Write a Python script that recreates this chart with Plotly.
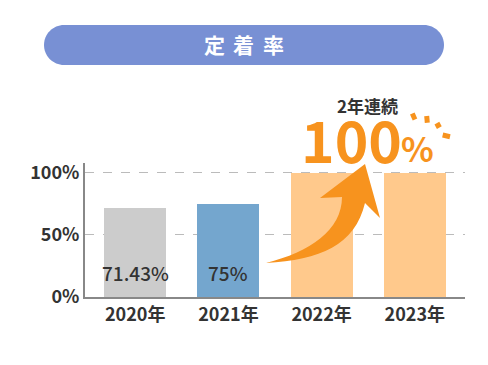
import plotly.graph_objects as go

# ---- data ----
years = ["2020年", "2021年", "2022年", "2023年"]
rates = [71.43, 75, 100, 100]
value_labels = ["71.43%", "75%", "", ""]
bar_colors = ["#CCCCCC", "#74A6CE", "#FFC98C", "#FFC98C"]
y_ticks = [0, 50, 100]
y_tick_labels = ["0%", "50%", "100%"]
title_chars = ["定", "着", "率"]
badge_small = "2年連続"
badge_big = "100"
badge_pct = "%"

OFF = 8  # page body margin
W, H = 488 - OFF, 365 - OFF
L, R, T, B = 85, 465, 163, 297
ORANGE = "#F7931E"
DARK = "#333333"
FONT = "Noto Sans CJK JP"

xs = list(range(len(years)))

def px(x):  # screen pixel -> paper x
    return (x - L) / (R - L)

def py(y):  # screen pixel -> paper y
    return (B - y) / (B - T)

def ann(x, y, text, size, color, weight="bold"):
    return dict(x=px(x), y=py(y), xref="paper", yref="paper", text=text, showarrow=False,
                xanchor="center", yanchor="middle",
                font=dict(family=FONT, size=size, color=color, weight=weight))

fig = go.Figure()
fig.add_trace(go.Bar(
    x=xs, y=rates, marker=dict(color=bar_colors, line=dict(width=0)),
    width=0.667, hoverinfo="skip",
))

annotations = []
for i, (v, lab) in enumerate(zip(rates, value_labels)):
    if lab:
        annotations.append(dict(x=i, y=20, xref="x", yref="y", text=lab, showarrow=False,
                                xanchor="center", yanchor="middle",
                                font=dict(family=FONT, size=19, color=DARK, weight=500)))

# title pill
x0, x1, y0, y1, r = 44, 444, 25, 65, 20
pill = (f"M {px(x0+r)},{py(y0)} L {px(x1-r)},{py(y0)} "
        f"C {px(x1-r+11)},{py(y0)} {px(x1)},{py(y0+9)} {px(x1)},{py(y0+r)} "
        f"C {px(x1)},{py(y1-9)} {px(x1-r+11)},{py(y1)} {px(x1-r)},{py(y1)} "
        f"L {px(x0+r)},{py(y1)} "
        f"C {px(x0+r-11)},{py(y1)} {px(x0)},{py(y1-9)} {px(x0)},{py(y1-r)} "
        f"C {px(x0)},{py(y0+9)} {px(x0+r-11)},{py(y0)} {px(x0+r)},{py(y0)} Z")
shapes = [dict(type="path", xref="paper", yref="paper", path=pill,
               fillcolor="#7890D4", line=dict(width=0), layer="above")]
for k, ch in enumerate(title_chars):
    annotations.append(ann(214 + 29.5 * k, 44, ch, 21, "white"))

# arrow
arrow = (f"M {px(266)},{py(263)} C {px(310)},{py(252)} {px(342)},{py(230)} {px(342)},{py(197)} "
         f"L {px(320)},{py(198)} L {px(365)},{py(164)} L {px(380)},{py(218)} L {px(365)},{py(203)} "
         f"C {px(355)},{py(245)} {px(320)},{py(260)} {px(266)},{py(263)} Z")
shapes.append(dict(type="path", xref="paper", yref="paper", path=arrow,
                   fillcolor=ORANGE, line=dict(width=0), layer="above"))

# sparkles
for (a, b, c, d) in [(412.3, 113.5, 415, 119.5), (426.7, 116, 427.3, 122.7),
                     (435.7, 126.7, 440.5, 124), (442.7, 135, 450, 136.7)]:
    shapes.append(dict(type="line", xref="paper", yref="paper", x0=px(a), y0=py(b), x1=px(c), y1=py(d),
                       line=dict(color=ORANGE, width=5), layer="above"))

annotations.append(ann(367, 105, badge_small, 17, DARK))
annotations.append(ann(351, 138, badge_big, 57, ORANGE))
annotations.append(ann(417, 147, badge_pct, 34, ORANGE))

fig.update_layout(
    width=W, height=H,
    margin=dict(l=L - OFF, r=W - (R - OFF), t=T - OFF, b=H - (B - OFF), pad=0),
    paper_bgcolor="white", plot_bgcolor="white",
    showlegend=False, bargap=0,
    shapes=shapes, annotations=annotations,
    font=dict(family=FONT, color=DARK),
    xaxis=dict(range=[-0.538, 3.538], tickvals=xs, ticktext=years, showgrid=False,
               showline=True, linecolor="#888888", linewidth=2, ticks="", zeroline=False,
               tickfont=dict(family=FONT, size=18, color=DARK, weight="bold"), fixedrange=True),
    yaxis=dict(range=[0, 108], tickvals=y_ticks, ticktext=y_tick_labels, showgrid=True,
               gridcolor="#BBBBBB", griddash="dash", gridwidth=1, zeroline=False,
               showline=True, linecolor="#888888", linewidth=2, ticks="",
               tickfont=dict(family=FONT, size=18, color=DARK, weight="bold"), fixedrange=True),
)
fig.write_html("out.html")
